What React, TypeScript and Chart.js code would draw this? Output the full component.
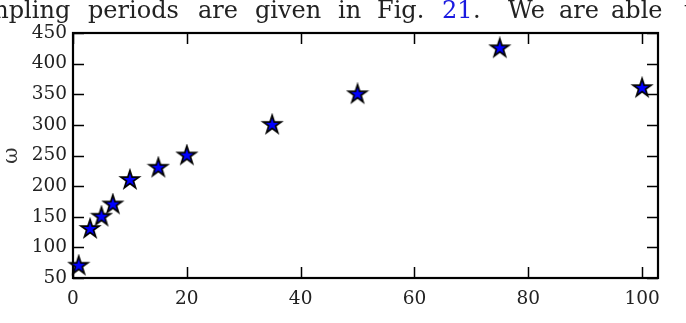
import React, { useEffect, useRef } from "react";
import { Chart, registerables } from "chart.js";

Chart.register(...registerables);

const periodX = [1, 3, 5, 7, 10, 15, 20, 35, 50, 75, 100];
const omegaY = [70, 130, 150, 170, 210, 230, 250, 300, 350, 425, 360];
const xTicks = [0, 20, 40, 60, 80, 100];
const yTicks = [50, 100, 150, 200, 250, 300, 350, 400, 450];
const yTitle = "ω";

const headerWords: { text: string; left: number; blue?: boolean }[] = [
  { text: "mpling", left: -14 },
  { text: "periods", left: 88 },
  { text: "are", left: 198 },
  { text: "given", left: 255 },
  { text: "in", left: 338 },
  { text: "Fig.", left: 377 },
  { text: "21", left: 442, blue: true },
  { text: ".", left: 473 },
  { text: "We", left: 508 },
  { text: "are", left: 559 },
  { text: "able", left: 611 },
  { text: "to", left: 684 },
];

function makeStar(): HTMLCanvasElement {
  const c = document.createElement("canvas");
  const s = 24;
  c.width = s;
  c.height = s;
  const ctx = c.getContext("2d")!;
  const cx = s / 2, cy = s / 2, R = 9.5, r = R * 0.382;
  ctx.beginPath();
  for (let i = 0; i < 10; i++) {
    const ang = -Math.PI / 2 + (i * Math.PI) / 5;
    const rad = i % 2 === 0 ? R : r;
    const px = cx + rad * Math.cos(ang);
    const py = cy + rad * Math.sin(ang);
    if (i === 0) ctx.moveTo(px, py);
    else ctx.lineTo(px, py);
  }
  ctx.closePath();
  ctx.fillStyle = "#0000ff";
  ctx.fill();
  ctx.lineWidth = 1.7;
  ctx.lineJoin = "miter";
  ctx.strokeStyle = "#000";
  ctx.stroke();
  return c;
}

const frame = {
  id: "frame",
  beforeDatasetsDraw(chart: any) {
    const { ctx, chartArea: a, scales } = chart;
    const tl = 11;
    ctx.save();
    ctx.strokeStyle = "#000";
    ctx.lineWidth = 1.5;
    ctx.beginPath();
    for (const t of scales.x.ticks) {
      const px = Math.round(scales.x.getPixelForValue(t.value)) + 0.5;
      ctx.moveTo(px, a.bottom);
      ctx.lineTo(px, a.bottom - tl);
      ctx.moveTo(px, a.top);
      ctx.lineTo(px, a.top + tl);
    }
    for (const t of scales.y.ticks) {
      const py = Math.round(scales.y.getPixelForValue(t.value)) + 0.5;
      ctx.moveTo(a.left, py);
      ctx.lineTo(a.left + tl, py);
      ctx.moveTo(a.right, py);
      ctx.lineTo(a.right - tl, py);
    }
    ctx.stroke();
    ctx.lineWidth = 2.2;
    ctx.strokeRect(a.left, a.top, a.right - a.left, a.bottom - a.top);
    ctx.restore();
  },
};

export default function App() {
  const ref = useRef<HTMLCanvasElement>(null);
  useEffect(() => {
    const star = makeStar();
    const font = { family: "'DejaVu Serif', serif", size: 18.5 };
    const chart = new Chart(ref.current!, {
      type: "scatter",
      data: {
        datasets: [
          {
            data: periodX.map((x, i) => ({ x, y: omegaY[i] })),
            pointStyle: star as any,
            pointRadius: 10,
            clip: false as any,
          },
        ],
      },
      options: {
        animation: false,
        responsive: false,
        layout: { padding: { left: 0, top: 33, right: 28, bottom: 0 } },
        plugins: { legend: { display: false }, tooltip: { enabled: false } },
        scales: {
          x: {
            type: "linear",
            min: 0,
            max: 102.8,
            grid: { display: false, drawTicks: false },
            border: { display: false },
            ticks: { color: "#222", font, padding: 10, maxRotation: 0 },
            afterBuildTicks: (s: any) => {
              s.ticks = xTicks.map((v) => ({ value: v }));
            },
            afterFit: (s: any) => {
              s.height = 45;
            },
          },
          y: {
            type: "linear",
            min: 50,
            max: 450,
            grid: { display: false, drawTicks: false },
            border: { display: false },
            ticks: { color: "#222", font, padding: 6 },
            afterBuildTicks: (s: any) => {
              s.ticks = yTicks.map((v) => ({ value: v }));
            },
            afterFit: (s: any) => {
              s.width = 73;
            },
            title: {
              display: true,
              text: yTitle,
              color: "#333",
              font: { family: "'DejaVu Serif', serif", size: 20 },
              padding: { top: 0, bottom: 0 },
            },
          },
        },
      },
      plugins: [frame],
    });
    return () => chart.destroy();
  }, []);
  return (
    <div
      style={{
        position: "fixed",
        left: 0,
        top: 0,
        width: 686,
        height: 323,
        overflow: "hidden",
        background: "#fff",
      }}
    >
      <canvas ref={ref} width={686} height={323} style={{ position: "absolute", left: 0, top: 0 }} />
      {headerWords.map((w, i) => (
        <span
          key={i}
          style={{
            position: "absolute",
            left: w.left,
            top: -2,
            fontFamily: "'DejaVu Serif', serif",
            fontSize: 24,
            lineHeight: "24px",
            whiteSpace: "nowrap",
            color: w.blue ? "#1a1ae0" : "#222",
          }}
        >
          {w.text}
        </span>
      ))}
    </div>
  );
}
